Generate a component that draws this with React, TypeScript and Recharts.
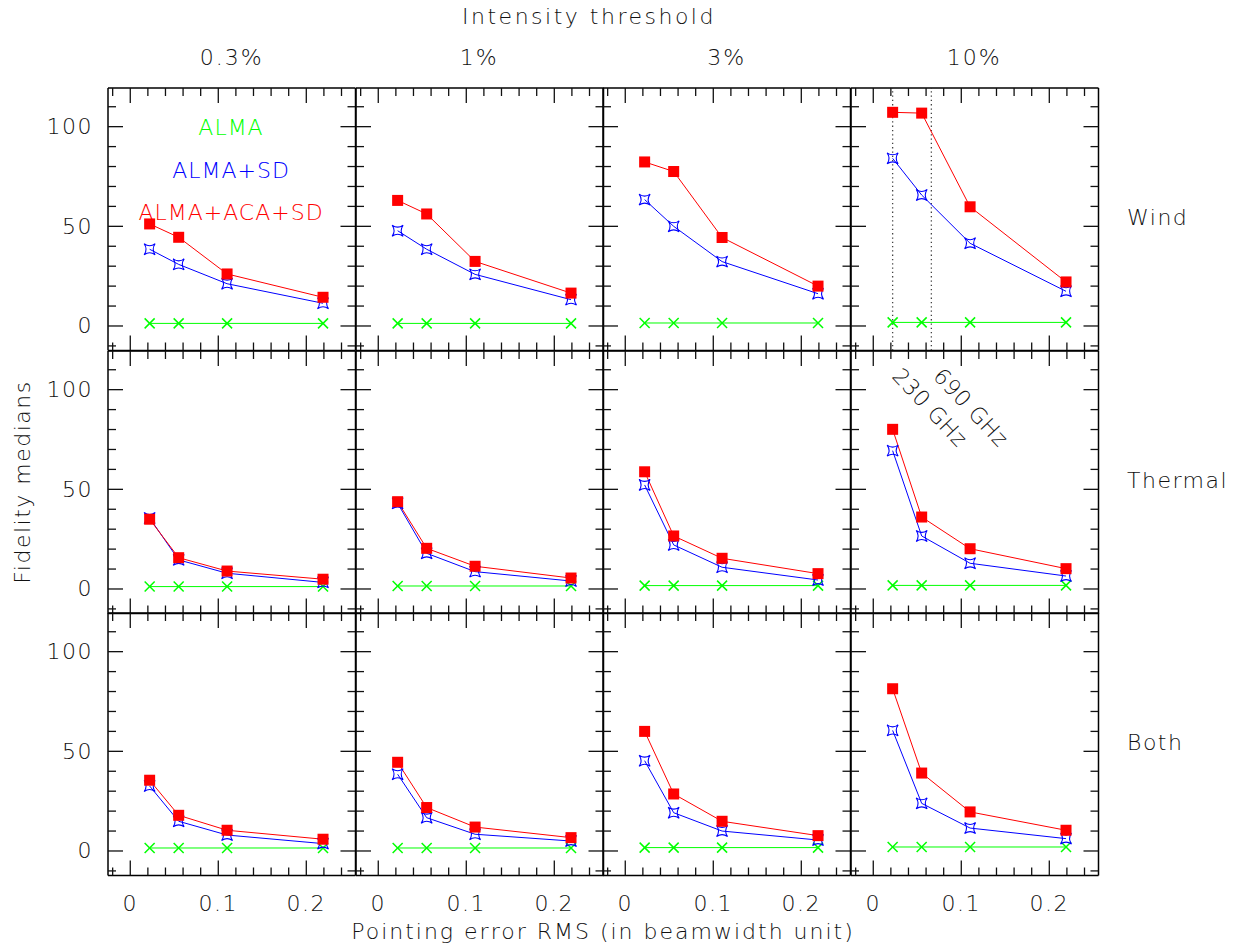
import React from 'react'
import { LineChart, Line, XAxis, YAxis, ReferenceLine } from 'recharts'

// pointing error RMS (beamwidth units) of the four simulated cases
const xValues = [0.022, 0.055, 0.11, 0.219]
const thresholds = ['0.3%', '1%', '3%', '10%']
const models = ['Wind', 'Thermal', 'Both']
const seriesNames = ['ALMA', 'ALMA+SD', 'ALMA+ACA+SD']

const xTicks = [-0.02, 0, 0.02, 0.04, 0.06, 0.08, 0.1, 0.12, 0.14, 0.16, 0.18, 0.2, 0.22, 0.24]
const xMajor = [0, 0.1, 0.2]
const yTicks = [-10, 0, 10, 20, 30, 40, 50, 60, 70, 80, 90, 100, 110]
const yMajor = [0, 50, 100]

// beam markers drawn in the wind / 10% panel (230 GHz, 690 GHz)
const beamLines = [0.022, 0.066]
const beamLabels = ['230 GHz', '690 GHz']

// fidelity medians, one list per intensity threshold (0.3%, 1%, 3%, 10%)
const windAlma = [[1.3, 1.3, 1.3, 1.3], [1.3, 1.3, 1.3, 1.3], [1.5, 1.5, 1.5, 1.5], [1.8, 1.8, 1.8, 1.8]]
const windSd = [[38.5, 30.9, 21.2, 11.4], [47.8, 38.5, 25.9, 13.2], [63.4, 50.0, 32.3, 16.2], [84.1, 65.7, 41.5, 17.4]]
const windAca = [[51.2, 44.5, 26.1, 14.4], [63.0, 56.2, 32.4, 16.5], [82.3, 77.5, 44.4, 20.0], [107.2, 106.8, 59.8, 22.1]]

const thermalAlma = [[1.2, 1.2, 1.2, 1.2], [1.5, 1.5, 1.5, 1.5], [1.7, 1.7, 1.7, 1.7], [1.8, 1.8, 1.8, 1.8]]
const thermalSd = [[35.6, 14.6, 7.9, 3.3], [43.0, 17.9, 8.7, 4.0], [52.2, 22.1, 10.9, 4.5], [69.4, 26.6, 12.9, 6.5]]
const thermalAca = [[35.0, 15.7, 9.0, 4.9], [43.8, 20.4, 11.4, 5.5], [58.8, 26.6, 15.4, 7.7], [80.1, 36.1, 20.2, 10.2]]

const bothAlma = [[1.5, 1.5, 1.5, 1.5], [1.5, 1.5, 1.5, 1.5], [1.7, 1.7, 1.7, 1.7], [2.0, 2.0, 2.0, 2.0]]
const bothSd = [[32.6, 14.9, 8.0, 3.7], [38.5, 16.7, 8.4, 5.0], [45.3, 19.2, 10.0, 5.5], [60.5, 23.9, 11.5, 6.2]]
const bothAca = [[35.5, 17.9, 10.4, 5.9], [44.5, 21.8, 12.0, 6.7], [60.0, 28.6, 14.9, 7.7], [81.4, 39.1, 19.6, 10.4]]

const almaRows = [windAlma, thermalAlma, bothAlma]
const sdRows = [windSd, thermalSd, bothSd]
const acaRows = [windAca, thermalAca, bothAca]

const FONT = '"DejaVu Sans", sans-serif'
const INK = '#111'
const GREEN = '#00ff00'
const BLUE = '#0000ff'
const RED = '#ff0000'

// panel geometry
const COL_X = [108, 355.5, 603, 850.5]
const ROW_Y = [88, 350.5, 613]
const PW = 247.5
const PH = 262.5
const ML = 60
const MR = 10
const MT = 10
const MB = 40
const xDomain = [-0.0253, 0.2559]
const yDomain = [-12.3, 119.4]

const frame = { stroke: '#000', strokeWidth: 1.5 }

type Side = 'top' | 'bottom' | 'left' | 'right'

function makeTick(side: Side, withLabel: boolean) {
  return (props: any) => {
    const { x, y, payload } = props
    const v: number = payload.value
    const horiz = side === 'top' || side === 'bottom'
    const major = horiz ? xMajor.includes(v) : yMajor.includes(v)
    const len = major ? 15 : 8
    let x2 = x
    let y2 = y
    if (side === 'bottom') y2 = y - len
    if (side === 'top') y2 = y + len
    if (side === 'left') x2 = x + len
    if (side === 'right') x2 = x - len
    return (
      <g>
        <line x1={x} y1={y} x2={x2} y2={y2} stroke="#111" strokeWidth={1.3} />
        {withLabel && major && side === 'bottom' && (
          <text x={x} y={y + 28} textAnchor="middle" dominantBaseline="central" fontSize={22} fill={INK} fontFamily={FONT} fontWeight={300} letterSpacing={1.5}>
            {String(v)}
          </text>
        )}
        {withLabel && major && side === 'left' && (
          <text x={x - 15} y={y} textAnchor="end" dominantBaseline="central" fontSize={22} fill={INK} fontFamily={FONT} fontWeight={300} letterSpacing={1.5}>
            {String(v)}
          </text>
        )}
      </g>
    )
  }
}

function SquareDot(props: any) {
  const { cx, cy } = props
  return <rect x={cx - 5.5} y={cy - 5.5} width={11} height={11} fill={RED} />
}

function StarDot(props: any) {
  const { cx, cy } = props
  const s = 5.5
  const c = 1.6
  const d = `M${cx - s},${cy - s} Q${cx},${cy - c} ${cx + s},${cy - s} Q${cx + c},${cy} ${cx + s},${cy + s} Q${cx},${cy + c} ${cx - s},${cy + s} Q${cx - c},${cy} ${cx - s},${cy - s} Z`
  return <path d={d} fill="none" stroke={BLUE} strokeWidth={1.1} />
}

function CrossDot(props: any) {
  const { cx, cy } = props
  const s = 5
  return (
    <g>
      <line x1={cx - s} y1={cy - s} x2={cx + s} y2={cy + s} stroke={GREEN} strokeWidth={1.5} />
      <line x1={cx - s} y1={cy + s} x2={cx + s} y2={cy - s} stroke={GREEN} strokeWidth={1.5} />
    </g>
  )
}

function Panel({ row, col }: { row: number; col: number }) {
  const data = xValues.map((x, i) => ({
    x,
    alma: almaRows[row][col][i],
    sd: sdRows[row][col][i],
    aca: acaRows[row][col][i],
  }))
  const showX = row === 2
  const showY = col === 0
  // each axis takes 1px, taken back from the margins
  return (
    <div style={{ position: 'absolute', left: COL_X[col] - ML, top: ROW_Y[row] - MT }}>
      <LineChart width={PW + ML + MR} height={PH + MT + MB} data={data} margin={{ top: MT - 1, right: MR - 1, bottom: MB - 1, left: ML - 1 }}>
        <XAxis xAxisId="b" dataKey="x" type="number" orientation="bottom" domain={xDomain} allowDataOverflow ticks={xTicks} interval={0} height={1} tickSize={0} tickMargin={0} axisLine={frame} tickLine={false} tick={makeTick('bottom', showX)} />
        <XAxis xAxisId="t" dataKey="x" type="number" orientation="top" domain={xDomain} allowDataOverflow ticks={xTicks} interval={0} height={1} tickSize={0} tickMargin={0} axisLine={frame} tickLine={false} tick={makeTick('top', false)} />
        <YAxis yAxisId="l" type="number" orientation="left" domain={yDomain} allowDataOverflow ticks={yTicks} interval={0} width={1} tickSize={0} tickMargin={0} axisLine={frame} tickLine={false} tick={makeTick('left', showY)} />
        <YAxis yAxisId="r" type="number" orientation="right" domain={yDomain} allowDataOverflow ticks={yTicks} interval={0} width={1} tickSize={0} tickMargin={0} axisLine={frame} tickLine={false} tick={makeTick('right', false)} />
        {row === 0 && col === 3 &&
          beamLines.map((b) => (
            <ReferenceLine key={b} x={b} xAxisId="b" yAxisId="l" stroke="#444" strokeWidth={1.3} strokeDasharray="1.3 3" />
          ))}
        <Line xAxisId="b" yAxisId="l" dataKey="alma" name={seriesNames[0]} stroke={GREEN} strokeWidth={1} dot={<CrossDot />} isAnimationActive={false} />
        <Line xAxisId="b" yAxisId="l" dataKey="sd" name={seriesNames[1]} stroke={BLUE} strokeWidth={1} dot={<StarDot />} isAnimationActive={false} />
        <Line xAxisId="b" yAxisId="l" dataKey="aca" name={seriesNames[2]} stroke={RED} strokeWidth={1} dot={<SquareDot />} isAnimationActive={false} />
      </LineChart>
    </div>
  )
}

const textBase: React.CSSProperties = {
  position: 'absolute',
  fontFamily: FONT,
  fontSize: 22,
  fontWeight: 300,
  letterSpacing: 2,
  lineHeight: '24px',
  whiteSpace: 'nowrap',
  color: INK,
}

function Centered({ x, y, color, spacing, children }: { x: number; y: number; color?: string; spacing?: number; children: React.ReactNode }) {
  return (
    <div style={{ ...textBase, left: x - 400, top: y - 12, width: 800, textAlign: 'center', color: color || INK, letterSpacing: spacing ?? 2 }}>{children}</div>
  )
}

export default function App() {
  return (
    <div style={{ position: 'absolute', left: 0, top: 0, width: 1236, height: 948, background: '#fff' }}>
      <Centered x={589} y={17} spacing={2.5}>Intensity threshold</Centered>
      {thresholds.map((t, i) => (
        <Centered key={t} x={COL_X[i] + PW / 2} y={58}>
          {t}
        </Centered>
      ))}
      {models.map((m, i) => (
        <div key={m} style={{ ...textBase, letterSpacing: 1.5, left: 1127, top: ROW_Y[i] + 130 - 12 }}>
          {m}
        </div>
      ))}
      <div style={{ ...textBase, letterSpacing: 1.5, left: 23 - 150, top: 482 - 12, width: 300, textAlign: 'center', transform: 'rotate(-90deg)' }}>
        Fidelity medians
      </div>
      <Centered x={603} y={932}>Pointing error RMS (in beamwidth unit)</Centered>

      {models.map((m, r) => thresholds.map((t, c) => <Panel key={m + t} row={r} col={c} />))}

      <Centered x={231} y={128} color={GREEN} spacing={1}>{seriesNames[0]}</Centered>
      <Centered x={231} y={171} color={BLUE} spacing={1}>{seriesNames[1]}</Centered>
      <Centered x={231} y={213} color={RED} spacing={1}>{seriesNames[2]}</Centered>

      <div style={{ ...textBase, letterSpacing: 0.5, left: 905, top: 364, transformOrigin: '0 0', transform: 'rotate(47deg)' }}>{beamLabels[0]}</div>
      <div style={{ ...textBase, letterSpacing: 0.5, left: 946, top: 364, transformOrigin: '0 0', transform: 'rotate(47deg)' }}>{beamLabels[1]}</div>
    </div>
  )
}
